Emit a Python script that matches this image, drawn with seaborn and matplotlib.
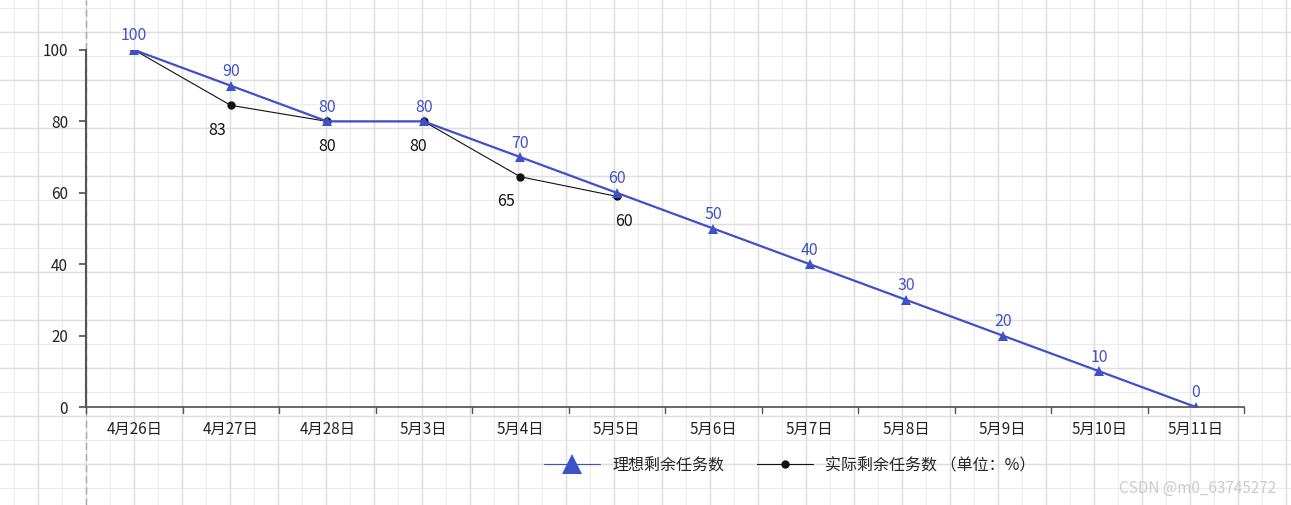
import matplotlib
matplotlib.use("Agg")
import matplotlib.pyplot as plt
import seaborn as sns
import numpy as np
import pandas as pd

dates = ["4月26日", "4月27日", "4月28日", "5月3日", "5月4日", "5月5日",
         "5月6日", "5月7日", "5月8日", "5月9日", "5月10日", "5月11日"]
ideal = [100, 90, 80, 80, 70, 60, 50, 40, 30, 20, 10, 0]
actual = [100, 84.5, 80, 80, 64.5, 59]
actual_labels = ["", "83", "80", "80", "65", "60"]

sns.set_theme(style="white")
plt.rcParams['font.family'] = ['Noto Sans CJK SC', 'DejaVu Sans']

W, H = 1291, 505
fig = plt.figure(figsize=(W / 100, H / 100), dpi=100)

# graph-paper background
bg = fig.add_axes([0, 0, 1, 1], zorder=0)
bg.set_xlim(0, W); bg.set_ylim(H, 0); bg.axis("off")
for x in np.arange(14, W, 24):
    bg.axvline(x, color="#ececec", lw=0.8)
for y in np.arange(8, H, 24):
    bg.axhline(y, color="#ececec", lw=0.8)
for x in np.arange(38, W, 48):
    bg.axvline(x, color="#dedede", lw=1.0)
for y in np.arange(32, H, 48):
    bg.axhline(y, color="#dedede", lw=1.0)
bg.axvline(86, color="#aaaaaa", lw=1, ls=(0, (5, 3)))

ax = fig.add_axes([86 / W, 1 - 407 / H, (1244 - 86) / W, (407 - 50) / H], zorder=1)
ax.patch.set_alpha(0)

df_i = pd.DataFrame({"x": np.arange(len(dates)), "v": ideal})
df_a = pd.DataFrame({"x": np.arange(len(actual)), "v": actual})
blue = "#3f51c9"
sns.lineplot(data=df_a, x="x", y="v", ax=ax, color="#111111", lw=0.8, marker="o",
             markersize=6, markeredgewidth=0, label="实际剩余任务数 （单位：%）", zorder=2)
sns.lineplot(data=df_i, x="x", y="v", ax=ax, color=blue, lw=1.6, marker="^",
             markersize=7, markeredgewidth=0, label="理想剩余任务数", zorder=3)

for i, v in enumerate(ideal):
    ax.annotate(str(v), (i, v), xytext=(0, 4), textcoords="offset points",
                ha="center", va="bottom", color=blue, fontsize=11.5)
for i, (v, t) in enumerate(zip(actual, actual_labels)):
    if t:
        ax.annotate(t, (i, v), xytext=(-10 if i in (1, 4) else (0 if i in (2,) else (-4 if i == 3 else 5)), -12),
                    textcoords="offset points", ha="center", va="top",
                    color="#111111", fontsize=11.5)

ax.set_xlim(-0.5, len(dates) - 0.5)
ax.set_ylim(0, 100)
ax.set_yticks([0, 20, 40, 60, 80, 100])
ax.set_xticks(np.arange(len(dates)))
ax.set_xticklabels(dates, fontsize=11, color="#222222")
ax.tick_params(axis="x", length=0, pad=10)
ax.tick_params(axis="y", left=True, length=5, color="#555555", labelsize=11,
               labelcolor="#222222", pad=8)
for b in np.arange(-0.5, len(dates), 1.0):
    ax.plot([b, b], [0, -1.6], color="#555555", lw=1, clip_on=False)
ax.set_xlabel(""); ax.set_ylabel("")
for s in ["top", "right"]:
    ax.spines[s].set_visible(False)
ax.spines["left"].set_color("#555555")
ax.spines["left"].set_linewidth(1.5)
ax.spines["bottom"].set_color("#555555")

h, l = ax.get_legend_handles_labels()
leg = ax.legend([h[1], h[0]], [l[1], l[0]], loc="upper center",
                bbox_to_anchor=((790 - 86) / (1244 - 86), -0.1), ncol=2, frameon=False,
                fontsize=11.5, handlelength=3.5, columnspacing=2.0)
lh = leg.legend_handles
lh[0].set_markersize(14); lh[0].set_linewidth(0.8)
lh[1].set_markersize(6)

fig.text(1276 / W, 1 - 488 / H, "CSDN @m0_63745272", ha="right", va="center",
         color="#cccccc", fontsize=11)

fig.savefig("out.png", dpi=100)
